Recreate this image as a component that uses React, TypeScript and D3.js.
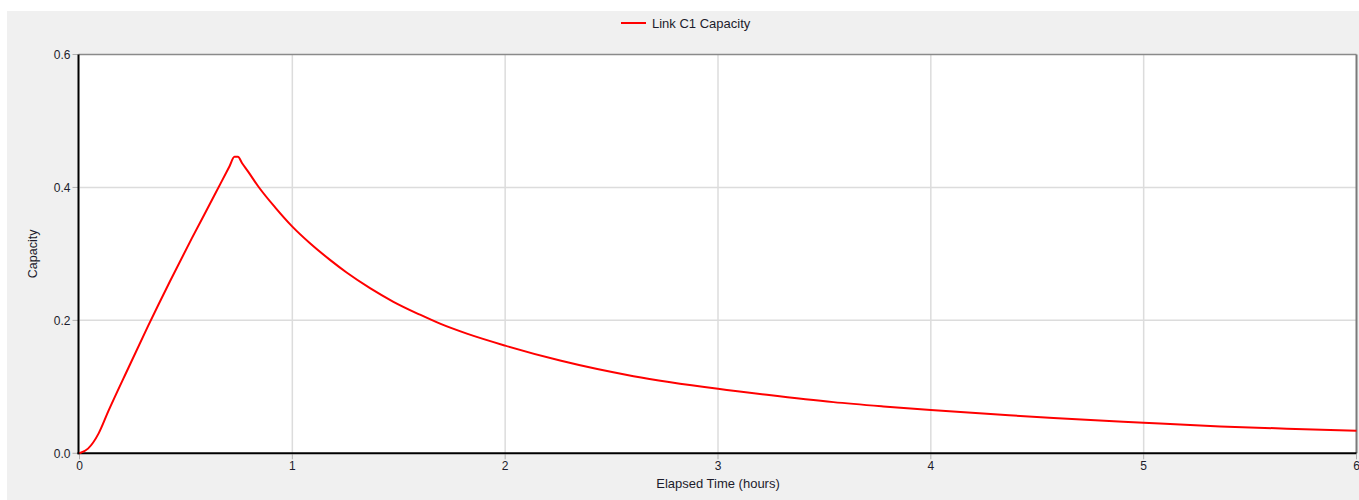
import React from "react";
import * as d3 from "d3";

const hours: number[] = [0, 0.04, 0.09, 0.135, 0.229, 0.323, 0.427, 0.527, 0.632, 0.705, 0.728, 0.744, 0.765, 0.794, 0.841, 0.919, 1.0, 1.083, 1.177, 1.255, 1.365, 1.475, 1.6, 1.694, 1.82, 2.0, 2.258, 2.603, 3.0, 3.23, 3.542, 3.777, 4.0, 4.263, 4.576, 5.0, 5.36, 5.673, 6.0];
const capacity: number[] = [0, 0.007, 0.03, 0.063, 0.128, 0.192, 0.26, 0.323, 0.387, 0.432, 0.446, 0.446, 0.436, 0.423, 0.401, 0.37, 0.341, 0.316, 0.291, 0.272, 0.2485, 0.228, 0.2085, 0.195, 0.18, 0.162, 0.1395, 0.116, 0.097, 0.088, 0.077, 0.0705, 0.065, 0.0595, 0.053, 0.046, 0.0405, 0.037, 0.034];
const xTicks: number[] = [0, 1, 2, 3, 4, 5, 6];
const yTicks: number[] = [0, 0.2, 0.4, 0.6];
const seriesName = "Link C1 Capacity";
const xTitle = "Elapsed Time (hours)";
const yTitle = "Capacity";

export default function App() {
  const W = 1359, H = 500;
  const left = 79.5, right = 1356.5, top = 54.5, bottom = 453.3;
  const x = d3.scaleLinear().domain([0, 6]).range([left, right]);
  const y = d3.scaleLinear().domain([0, 0.6]).range([bottom, top]);
  const line = d3.line<number>().x((_, i) => x(hours[i])).y((d) => y(d)).curve(d3.curveMonotoneX);
  const font = "'Liberation Sans', Arial, sans-serif";
  const textColor = "#1c1c2c";
  return (
    <svg width={W} height={H} style={{ position: "absolute", left: 0, top: 0 }} fontFamily={font}>
      <rect x={0} y={0} width={W} height={H} fill="#ffffff" />
      <rect x={7} y={11} width={W - 7} height={H - 11} fill="#f0f0f0" />
      <rect x={left} y={top} width={right - left} height={bottom - top} fill="#ffffff" />
      {xTicks.filter((t) => t > 0 && t < 6).map((t) => (
        <line key={"gx" + t} x1={x(t)} x2={x(t)} y1={top} y2={bottom} stroke="#dcdcdc" strokeWidth={1.5} />
      ))}
      {yTicks.filter((t) => t > 0 && t < 0.6).map((t) => (
        <line key={"gy" + t} x1={left} x2={right} y1={y(t)} y2={y(t)} stroke="#dcdcdc" strokeWidth={1.5} />
      ))}
      <line x1={left - 1} x2={right} y1={top} y2={top} stroke="#8a8a8a" strokeWidth={1.5} />
      <line x1={right} x2={right} y1={top} y2={bottom} stroke="#7a7a7a" strokeWidth={2} />
      {yTicks.map((t) => (
        <g key={"ty" + t}>
          <line x1={left - 7} x2={left - 1} y1={y(t)} y2={y(t)} stroke="#b0b0b0" strokeWidth={1} />
          <text x={left - 9} y={y(t)} dy="0.35em" textAnchor="end" fontSize={12} fill={textColor}>{t.toFixed(1)}</text>
        </g>
      ))}
      {xTicks.map((t) => (
        <g key={"tx" + t}>
          <line x1={x(t)} x2={x(t)} y1={bottom + 1} y2={bottom + 6} stroke="#b0b0b0" strokeWidth={1} />
          <text x={x(t)} y={bottom + 17} textAnchor="middle" fontSize={12} fill={textColor}>{t}</text>
        </g>
      ))}
      <line x1={left - 1} x2={left - 1} y1={top} y2={bottom + 1} stroke="#000" strokeWidth={2} />
      <line x1={left - 2} x2={right} y1={bottom} y2={bottom} stroke="#000" strokeWidth={2} />
      <path d={line(capacity) || ""} fill="none" stroke="#ff0000" strokeWidth={2} />
      <text x={(left + right) / 2} y={488} textAnchor="middle" fontSize={13} fill={textColor}>{xTitle}</text>
      <text transform={`translate(37,${(top + bottom) / 2}) rotate(-90)`} textAnchor="middle" fontSize={12.5} fill={textColor}>{yTitle}</text>
      <line x1={621} x2={646} y1={23} y2={23} stroke="#ff0000" strokeWidth={2} />
      <text x={652} y={27.5} fontSize={13} fill={textColor}>{seriesName}</text>
    </svg>
  );
}
